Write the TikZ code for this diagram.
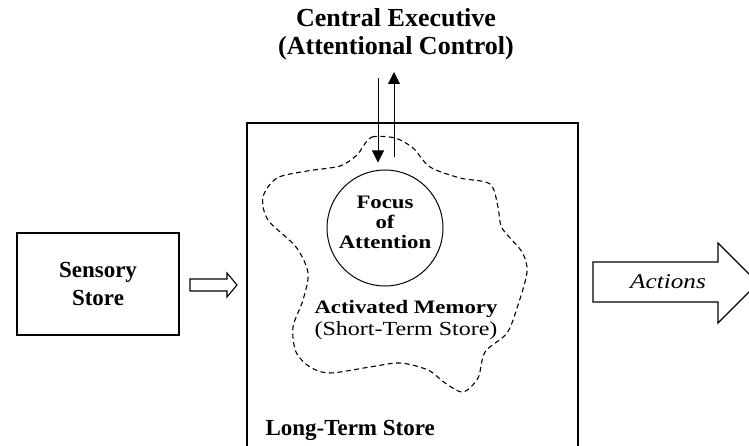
\documentclass[tikz,border=0pt]{standalone}
\usepackage{fontspec}
\setmainfont{Liberation Serif}
\newfontfamily\widefont[FakeStretch=1.2]{Liberation Serif}
\usetikzlibrary{arrows.meta}

\tikzset{
  boxtext/.style={font=\fontsize{23}{28}\selectfont\bfseries, align=center},
  blobtext/.style={font=\widefont\fontsize{19}{20}\selectfont\bfseries, align=center},
  ptr/.style={line width=1pt, -{Triangle[length=12pt,width=12pt]}},
  hollow/.style={line width=1.1pt, fill=white},
}

\begin{document}
\begin{tikzpicture}[x=1pt,y=-1pt]
\useasboundingbox (0,0) rectangle (749,446);
\clip (0,0) rectangle (749,446);

% central executive on top
\node[font=\fontsize{26}{28}\selectfont\bfseries, align=center] (ce) at (396,34) {Central Executive\\(Attentional Control)};

% long-term store
\draw[line width=1.2pt] (247,123) rectangle (578,470);
\node[boxtext, anchor=west] (lts) at (262,430) {Long-Term Store};

% activated memory (dashed blob)
\draw[line width=1.1pt, dash pattern=on 5pt off 3.5pt] plot[smooth cycle] coordinates {
  (362,148) (372,137) (395,138) (413,148) (430,167) (460,178) (490,184)
  (498,207) (502,228) (522,252) (527,272) (518,305) (507,333) (485,352)
  (478,378) (463,392) (445,383) (428,370) (400,363) (370,367) (330,373)
  (310,367) (296,352) (293,327) (303,300) (308,273) (296,247) (268,220)
  (263,197) (277,178) (307,171) (340,166) (357,155)};
\node[circle, draw, line width=1pt, minimum size=116pt, inner sep=0pt] (foa) at (385,228) {};
\node[blobtext] (foat) at ([yshift=6pt]foa.center) {Focus\\of\\Attention};
\node[align=center, font=\widefont\fontsize{20}{22}\selectfont] (am) at (406,320) {{\fontsize{19}{22}\selectfont\bfseries Activated Memory}\\(Short-Term Store)};

% links to the executive
\coordinate (inT) at (378,78);
\coordinate (outT) at (394,72);
\draw[ptr, shorten >=7pt] (inT) -- (inT |- foa.north);
\draw[ptr, shorten <=12pt] (outT |- foa.north) -- (outT);

% sensory store
\node[draw, line width=1.2pt, minimum width=162pt, minimum height=102pt, boxtext] (ss) at (98,284) {Sensory\\Store};
\draw[hollow] (190,279) -- (227,279) -- (227,273) -- (237,285) -- (227,297) -- (227,291) -- (190,291) -- cycle;

% actions
\draw[hollow] (593,262) -- (718,262) -- (718,243) -- (758,283) -- (718,323) -- (718,302) -- (593,302) -- cycle;
\node[font=\widefont\fontsize{21}{24}\selectfont\itshape] (act) at (668,282) {Actions};
\end{tikzpicture}
\end{document}
